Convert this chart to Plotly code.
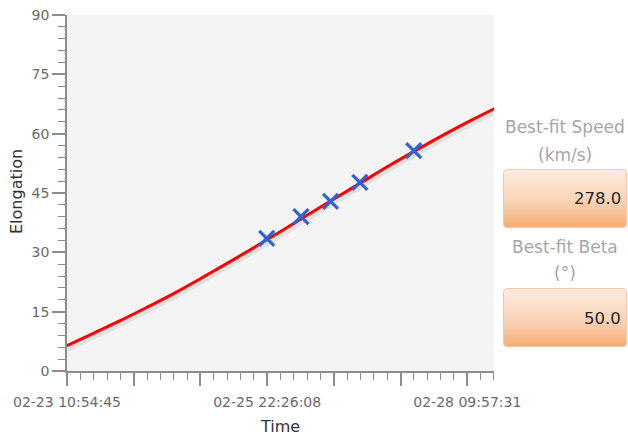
import base64
import pandas as pd
import plotly.graph_objects as go

# Best-fit elongation track (degrees) along the time axis
fit_times = [
    "2011-02-23 10:54:45", "2011-02-23 18:54:45", "2011-02-24 02:54:45",
    "2011-02-24 10:54:45", "2011-02-24 18:54:45", "2011-02-25 02:54:45",
    "2011-02-25 10:54:45", "2011-02-25 18:54:45", "2011-02-26 02:54:45",
    "2011-02-26 10:54:45", "2011-02-26 18:54:45", "2011-02-27 02:54:45",
    "2011-02-27 10:54:45", "2011-02-27 18:54:45", "2011-02-28 02:54:45",
    "2011-02-28 10:54:45", "2011-02-28 18:54:45",
]
fit_elong = [6.4, 9.6, 12.8, 16.2, 19.7, 23.5, 27.4, 31.4, 35.5,
             39.7, 43.8, 47.9, 52.0, 55.9, 59.7, 63.3, 66.7]

# Measured elongation points
obs_times = ["2011-02-25 22:18:00", "2011-02-26 08:29:00", "2011-02-26 17:18:00",
             "2011-02-27 02:00:00", "2011-02-27 18:01:00"]
obs_elong = [33.5, 39.0, 42.9, 47.7, 55.7]

# Labelled time ticks
label_times = ["2011-02-23 10:54:45", "2011-02-25 22:26:08", "2011-02-28 09:57:31"]
tick_labels = ["02-23 10:54:45", "02-25 22:26:08", "02-28 09:57:31"]

y_ticks = [0, 15, 30, 45, 60, 75, 90]

best_speed = 278.0
best_beta = 50.0

W, H = 628, 440
ML, MR, MT, MB = 67, 134, 15, 69
PW, PH = W - ML - MR, H - MT - MB


def px(x):
    return (x - ML) / PW


def py(y):
    return (H - MB - y) / PH


# major ticks: three per labelled interval, five minor steps each
lt = [pd.Timestamp(t) for t in label_times]
major_step = (lt[1] - lt[0]) / 3
minor_step = major_step / 5
tickvals, ticktext = [], []
for i in range(len(lt)):
    tickvals.append(lt[i])
    ticktext.append(tick_labels[i])
    if i < len(lt) - 1:
        for k in (1, 2):
            tickvals.append(lt[i] + k * major_step)
            ticktext.append("")
x_end = lt[-1] + 2 * minor_step

fig = go.Figure()

# soft drop shadow under the fitted track
fig.add_trace(go.Scatter(
    x=fit_times, y=[v - 0.8 for v in fit_elong], mode="lines",
    line=dict(color="rgba(0,0,0,0.07)", width=6, shape="spline"),
    hoverinfo="skip", showlegend=False))
fig.add_trace(go.Scatter(
    x=fit_times, y=fit_elong, mode="lines",
    line=dict(color="#ff0000", width=3, shape="spline"), showlegend=False))
fig.add_trace(go.Scatter(
    x=obs_times, y=obs_elong, mode="markers",
    marker=dict(symbol="x-thin", size=15,
                line=dict(color="#2f62d8", width=3.2)),
    showlegend=False))

axis_col = "#8c8c8c"
tick_font = dict(family="DejaVu Sans", size=14, color="#6a6a6a")
title_font = dict(family="DejaVu Sans", size=16, color="#333333")

fig.update_xaxes(
    type="date", range=[lt[0], x_end], automargin=False,
    tickmode="array", tickvals=tickvals, ticktext=ticktext,
    ticks="outside", ticklen=13, tickwidth=1.5, tickcolor=axis_col,
    ticklabelstandoff=4,
    showline=True, linecolor=axis_col, linewidth=1.5,
    showgrid=False, zeroline=False, tickfont=tick_font,
    minor=dict(tick0=lt[0], dtick=minor_step.total_seconds() * 1000,
               ticks="outside", ticklen=7, tickwidth=1, tickcolor=axis_col,
               showgrid=False),
    title=dict(text="Time", font=title_font, standoff=12),
)
fig.update_yaxes(
    range=[0, 90], tickmode="array", tickvals=y_ticks, automargin=False,
    ticks="outside", ticklen=13, tickwidth=1.5, tickcolor=axis_col,
    showline=True, linecolor=axis_col, linewidth=1.5,
    showgrid=False, zeroline=False, tickfont=tick_font,
    minor=dict(dtick=3, tick0=0, ticks="outside", ticklen=7, tickwidth=1,
               tickcolor=axis_col, showgrid=False),
)

# gradient value boxes
svg = ('<svg xmlns="http://www.w3.org/2000/svg" width="124" height="59" '
       'viewBox="0 0 124 59" preserveAspectRatio="none">'
       '<defs><linearGradient id="g" x1="0" y1="0" x2="0" y2="1">'
       '<stop offset="0" stop-color="#fdece0"/>'
       '<stop offset="0.55" stop-color="#fad3b6"/>'
       '<stop offset="1" stop-color="#f5ab73"/>'
       '</linearGradient></defs>'
       '<rect x="0.5" y="0.5" width="123" height="58" rx="3.5" '
       'fill="url(#g)" stroke="#f4c8a6" stroke-width="1"/></svg>')
box_src = "data:image/svg+xml;base64," + base64.b64encode(svg.encode()).decode()

label_font = dict(family="DejaVu Sans", size=17, color="#a6a6a6")
value_font = dict(family="DejaVu Sans", size=16.5, color="#262626")

annotations = [
    # y-axis title
    dict(text="Elongation", x=px(16), y=py(192), xref="paper", yref="paper",
         showarrow=False, textangle=-90, font=title_font,
         xanchor="center", yanchor="middle"),
]
images = []
panels = [
    ("Best-fit Speed", "(km/s)", best_speed, 127, 155, 169),
    ("Best-fit Beta", "(°)", best_beta, 247, 273, 288),
]
for title, unit, value, y1, y2, ybox in panels:
    annotations.append(dict(text=title, x=px(565), y=py(y1), xref="paper",
                            yref="paper", showarrow=False, font=label_font,
                            xanchor="center", yanchor="middle"))
    annotations.append(dict(text=unit, x=px(565), y=py(y2), xref="paper",
                            yref="paper", showarrow=False, font=label_font,
                            xanchor="center", yanchor="middle"))
    images.append(dict(source=box_src, xref="paper", yref="paper",
                       x=px(503), y=py(ybox), sizex=124 / PW, sizey=59 / PH,
                       xanchor="left", yanchor="top", sizing="stretch",
                       layer="above"))
    annotations.append(dict(text=f"{value:.1f}", x=px(623), y=py(ybox + 30),
                            xref="paper", yref="paper", showarrow=False,
                            font=value_font, xanchor="right", yanchor="middle"))

fig.update_layout(
    width=W, height=H,
    margin=dict(l=ML, r=MR, t=MT, b=MB),
    paper_bgcolor="#ffffff", plot_bgcolor="#f4f4f4",
    images=images, annotations=annotations,
    showlegend=False,
)

fig.write_html("out.html")
